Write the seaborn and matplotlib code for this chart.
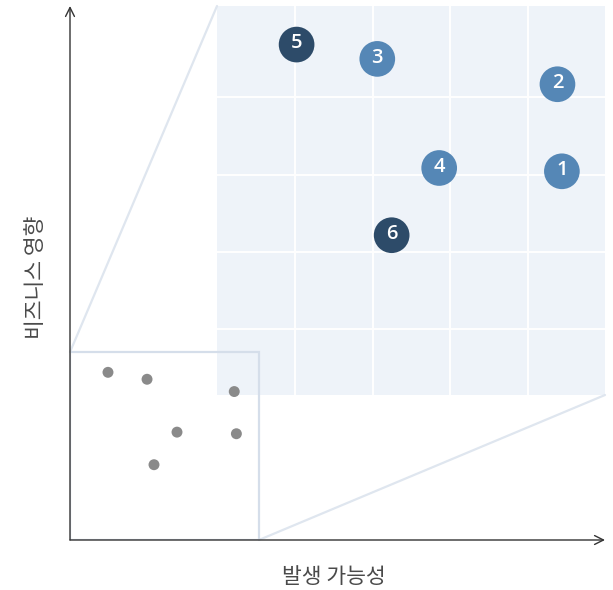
import numpy as np
import pandas as pd
import matplotlib
matplotlib.use("Agg")
import matplotlib.pyplot as plt
from matplotlib.patches import Rectangle, ConnectionPatch
import seaborn as sns

# risk ids, likelihood (x) and business impact (y), plus group for colour
risk_ids = ["1", "2", "3", "4", "5", "6"]
likelihood = [3.11, 3.07, 1.44, 2.00, 0.71, 1.57]
impact = [1.99, 2.78, 3.01, 2.02, 3.14, 1.41]
risk_group = ["light", "light", "light", "light", "dark", "dark"]

x_label = "발생 가능성"
y_label = "비즈니스 영향"

# main axis range, the window marked on it and the zoom panel range
main_xlim = (0, 10)
main_ylim = (0, 10)
window_x = (0, 3.53)
window_y = (0, 3.52)
panel_xlim = (-0.01, 3.50)
panel_ylim = (-0.04, 3.49)
panel_xgrid = [0.7, 1.4, 2.1, 2.8]
panel_ygrid = [0.56, 1.26, 1.96, 2.66]

df = pd.DataFrame({"id": risk_ids, "x": likelihood, "y": impact, "group": risk_group})

sns.set_style("white")
plt.rcParams["font.family"] = ["Noto Sans CJK KR", "DejaVu Sans"]

fig = plt.figure(figsize=(6.13, 5.90), dpi=100)

# zoom panel sits underneath the main axes
panel = fig.add_axes([217 / 613, 195 / 590, 388 / 613, 389 / 590], zorder=0)
main = fig.add_axes([70 / 613, 50 / 590, 535 / 613, 534 / 590], zorder=1)
main.set_facecolor("none")

# ---- main axes
sns.scatterplot(data=df, x="x", y="y", ax=main, color="#8a8a8a", s=62,
                edgecolor="none", legend=False, zorder=3)
main.set_xlim(*main_xlim)
main.set_ylim(*main_ylim)
main.set_xticks([])
main.set_yticks([])
main.set_xlabel("")
main.set_ylabel("")
for sp in main.spines.values():
    sp.set_visible(False)

main.add_patch(Rectangle((window_x[0], window_y[0]), window_x[1] - window_x[0],
                         window_y[1] - window_y[0], fill=False,
                         edgecolor="#d5deea", lw=1.6, zorder=2))

arrow_kw = dict(arrowstyle="->", color="#333333", lw=1.0, mutation_scale=16,
                shrinkA=0, shrinkB=0)
main.annotate("", xy=(1, 0), xytext=(0, 0), xycoords="axes fraction",
              arrowprops=arrow_kw, zorder=4)
main.annotate("", xy=(0, 1), xytext=(0, 0), xycoords="axes fraction",
              arrowprops=arrow_kw, zorder=4)

# ---- zoom panel
palette = {"light": "#5587b6", "dark": "#2d4b69"}
sns.scatterplot(data=df, x="x", y="y", hue="group", palette=palette, ax=panel,
                s=660, edgecolor="none", legend=False, zorder=3)
for _, r in df.iterrows():
    panel.text(r["x"], r["y"] + 0.01, r["id"], color="white", fontsize=14.5,
               fontweight="semibold", ha="center", va="center",
               family=["Open Sans", "DejaVu Sans"], zorder=4)

panel.set_xlim(*panel_xlim)
panel.set_ylim(*panel_ylim)
panel.set_facecolor("#eef3f9")
panel.set_xticks(panel_xgrid)
panel.set_yticks(panel_ygrid)
panel.grid(True, color="white", lw=1.4)
panel.tick_params(length=0, labelbottom=False, labelleft=False)
panel.set_xlabel("")
panel.set_ylabel("")
for sp in panel.spines.values():
    sp.set_visible(False)

# connector lines between window and panel
for pa, pb in [((0, 1), (window_x[0], window_y[1])), ((1, 0), (window_x[1], window_y[0]))]:
    con = ConnectionPatch(xyA=pa, coordsA=panel.transAxes, xyB=pb, coordsB=main.transData,
                          color="#dfe6ef", lw=1.6, zorder=0.5)
    fig.add_artist(con)

fig.text(334 / 613, 1 - 577 / 590, x_label, fontsize=15.5, color="#4a4a4a",
         ha="center", va="center")
fig.text(36 / 613, 1 - 277 / 590, y_label, fontsize=15.5, color="#4a4a4a",
         ha="center", va="center", rotation=90)

fig.savefig("out.png", dpi=100)
